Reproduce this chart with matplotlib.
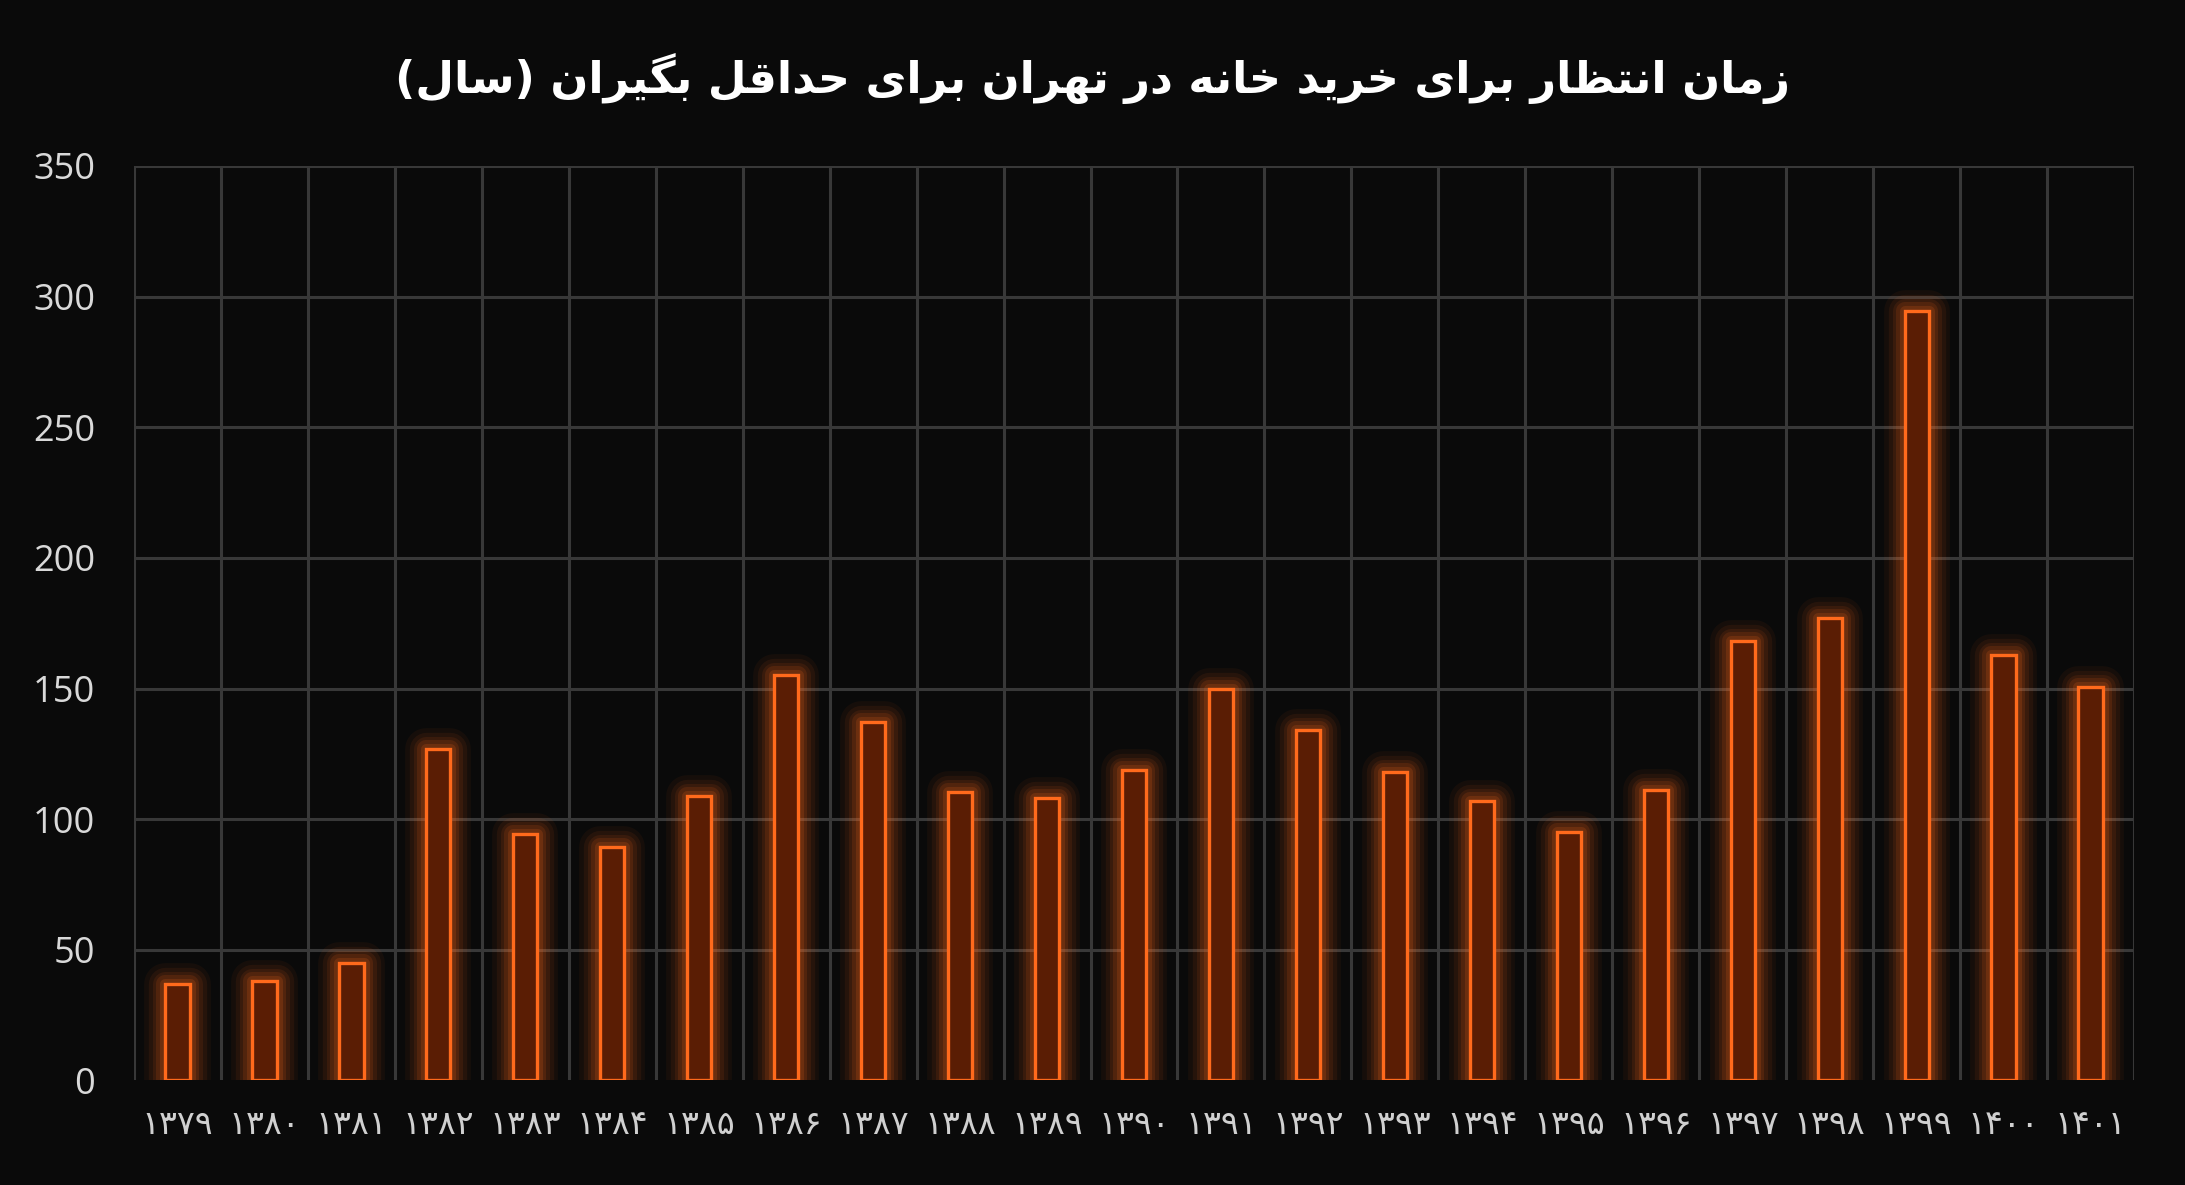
import matplotlib
matplotlib.use("Agg")
import matplotlib.pyplot as plt
import numpy as np

# ---------------- data ----------------
years = ["۱۳۷۹", "۱۳۸۰", "۱۳۸۱", "۱۳۸۲", "۱۳۸۳", "۱۳۸۴", "۱۳۸۵", "۱۳۸۶",
         "۱۳۸۷", "۱۳۸۸", "۱۳۸۹", "۱۳۹۰", "۱۳۹۱", "۱۳۹۲", "۱۳۹۳", "۱۳۹۴",
         "۱۳۹۵", "۱۳۹۶", "۱۳۹۷", "۱۳۹۸", "۱۳۹۹", "۱۴۰۰", "۱۴۰۱"]
values = [37, 38, 45, 127, 94.5, 89.5, 109, 155, 137, 110.5, 108, 119, 150,
          134, 118, 107, 95, 111, 168, 177, 294.5, 163, 150.5]
y_ticks = [0, 50, 100, 150, 200, 250, 300, 350]
title_text = "زمان انتظار برای خرید خانه در تهران برای حداقل بگیران (سال)"

# ---------------- simple Persian shaping ----------------
FORMS = {
    '\u0627': ('\uFE8D', '\uFE8E', None, None),
    '\u0622': ('\uFE81', '\uFE82', None, None),
    '\u0628': ('\uFE8F', '\uFE90', '\uFE91', '\uFE92'),
    '\u067E': ('\uFB56', '\uFB57', '\uFB58', '\uFB59'),
    '\u062A': ('\uFE95', '\uFE96', '\uFE97', '\uFE98'),
    '\u062B': ('\uFE99', '\uFE9A', '\uFE9B', '\uFE9C'),
    '\u062C': ('\uFE9D', '\uFE9E', '\uFE9F', '\uFEA0'),
    '\u0686': ('\uFB7A', '\uFB7B', '\uFB7C', '\uFB7D'),
    '\u062D': ('\uFEA1', '\uFEA2', '\uFEA3', '\uFEA4'),
    '\u062E': ('\uFEA5', '\uFEA6', '\uFEA7', '\uFEA8'),
    '\u062F': ('\uFEA9', '\uFEAA', None, None),
    '\u0630': ('\uFEAB', '\uFEAC', None, None),
    '\u0631': ('\uFEAD', '\uFEAE', None, None),
    '\u0632': ('\uFEAF', '\uFEB0', None, None),
    '\u0698': ('\uFB8A', '\uFB8B', None, None),
    '\u0633': ('\uFEB1', '\uFEB2', '\uFEB3', '\uFEB4'),
    '\u0634': ('\uFEB5', '\uFEB6', '\uFEB7', '\uFEB8'),
    '\u0635': ('\uFEB9', '\uFEBA', '\uFEBB', '\uFEBC'),
    '\u0636': ('\uFEBD', '\uFEBE', '\uFEBF', '\uFEC0'),
    '\u0637': ('\uFEC1', '\uFEC2', '\uFEC3', '\uFEC4'),
    '\u0638': ('\uFEC5', '\uFEC6', '\uFEC7', '\uFEC8'),
    '\u0639': ('\uFEC9', '\uFECA', '\uFECB', '\uFECC'),
    '\u063A': ('\uFECD', '\uFECE', '\uFECF', '\uFED0'),
    '\u0641': ('\uFED1', '\uFED2', '\uFED3', '\uFED4'),
    '\u0642': ('\uFED5', '\uFED6', '\uFED7', '\uFED8'),
    '\u06A9': ('\uFB8E', '\uFB8F', '\uFB90', '\uFB91'),
    '\u06AF': ('\uFB92', '\uFB93', '\uFB94', '\uFB95'),
    '\u0644': ('\uFEDD', '\uFEDE', '\uFEDF', '\uFEE0'),
    '\u0645': ('\uFEE1', '\uFEE2', '\uFEE3', '\uFEE4'),
    '\u0646': ('\uFEE5', '\uFEE6', '\uFEE7', '\uFEE8'),
    '\u0647': ('\uFEE9', '\uFEEA', '\uFEEB', '\uFEEC'),
    '\u0648': ('\uFEED', '\uFEEE', None, None),
    '\u06CC': ('\uFBFC', '\uFBFD', '\uFBFE', '\uFBFF'),
}


def shape(text):
    out = []
    n = len(text)
    for i, ch in enumerate(text):
        if ch not in FORMS:
            out.append(ch)
            continue
        f = FORMS[ch]
        prev = text[i - 1] if i > 0 else None
        nxt = text[i + 1] if i < n - 1 else None
        join_prev = prev in FORMS and FORMS[prev][2] is not None
        join_next = f[2] is not None and nxt in FORMS
        if join_prev and join_next:
            out.append(f[3])
        elif join_prev:
            out.append(f[1])
        elif join_next:
            out.append(f[2])
        else:
            out.append(f[0])
    vis = ''.join(reversed(out))
    return vis.translate(str.maketrans({'(': ')', ')': '('}))


# ---------------- figure ----------------
BG = "#0a0a0a"
GRID = "#383838"
EDGE = "#ff6a1c"
FILL = "#5a1d04"

fig = plt.figure(figsize=(21.85, 11.85), dpi=100, facecolor=BG)
ax = fig.add_axes([0.0613, 0.0882, 0.9154, 0.7718], facecolor=BG)

x = np.arange(len(values))
ax.set_xlim(-0.5, len(values) - 0.5)
ax.set_ylim(0, 350)

# grid
for yv in y_ticks[1:]:
    ax.axhline(yv, color=GRID, lw=2.2, zorder=0)
for xv in np.arange(-0.5, len(values), 1.0):
    ax.axvline(xv, color=GRID, lw=2.2, zorder=0)

bw = 0.28
# glow
for lw, a in [(30, 0.05), (24, 0.07), (18, 0.09), (13, 0.12), (8, 0.16)]:
    ax.bar(x, values, width=bw, color="none", edgecolor=EDGE, linewidth=lw,
           alpha=a, zorder=2, joinstyle="round")
ax.bar(x, values, width=bw, color=FILL, edgecolor=EDGE, linewidth=2.4, zorder=3)

for s in ax.spines.values():
    s.set_visible(False)

ax.set_yticks(y_ticks)
ax.set_yticklabels([str(v) for v in y_ticks], fontfamily=["Open Sans", "DejaVu Sans"],
                   fontsize=26, color="#d9d9d9")
ax.tick_params(axis="y", length=0, pad=28)
ax.set_xticks(x)
ax.set_xticklabels(years, fontfamily=["DejaVu Sans"], fontsize=24, color="#d0d0d0")
ax.tick_params(axis="x", length=0, pad=20)

fig.text(0.5, 0.934, shape(title_text), ha="center", va="center", color="white",
         fontsize=32, fontweight="bold", fontfamily=["DejaVu Sans"])

fig.savefig("out.png", dpi=100, facecolor=BG)
